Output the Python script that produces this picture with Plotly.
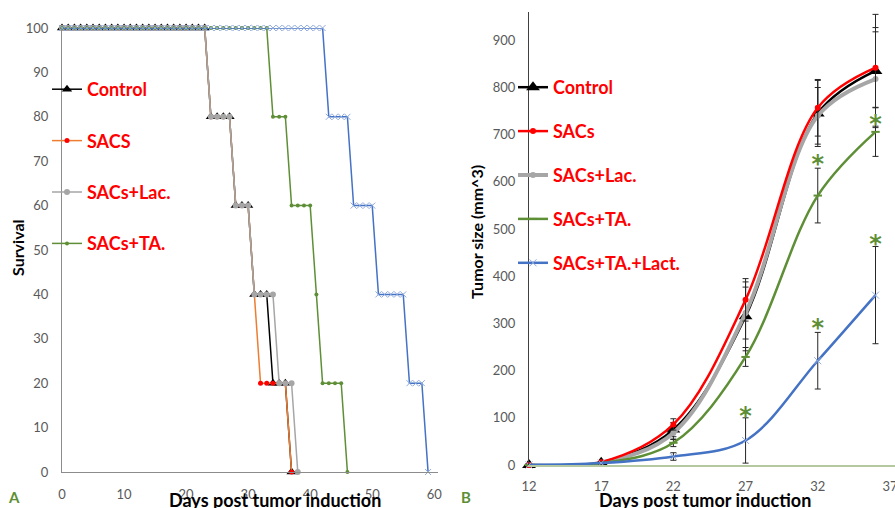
import plotly.graph_objects as go

# ---------------- Panel A: survival (step data, one value per day) ----------------
days_control = list(range(0, 38))
surv_control = [100, 100, 100, 100, 100, 100, 100, 100, 100, 100, 100, 100, 100, 100, 100, 100,
                100, 100, 100, 100, 100, 100, 100, 100, 80, 80, 80, 80, 60, 60, 60, 40, 40, 40,
                20, 20, 20, 0]
days_sacs = list(range(0, 38))
surv_sacs = [100, 100, 100, 100, 100, 100, 100, 100, 100, 100, 100, 100, 100, 100, 100, 100,
             100, 100, 100, 100, 100, 100, 100, 100, 80, 80, 80, 80, 60, 60, 60, 40,
             20, 20, 20, 20, 20, 0]
days_lac = list(range(0, 39))
surv_lac = [100, 100, 100, 100, 100, 100, 100, 100, 100, 100, 100, 100, 100, 100, 100, 100,
            100, 100, 100, 100, 100, 100, 100, 100, 80, 80, 80, 80, 60, 60, 60, 40, 40, 40, 40,
            20, 20, 20, 0]
days_ta = list(range(0, 47))
surv_ta = [100, 100, 100, 100, 100, 100, 100, 100, 100, 100, 100, 100, 100, 100, 100, 100,
           100, 100, 100, 100, 100, 100, 100, 100, 100, 100, 100, 100, 100, 100, 100, 100,
           100, 100, 80, 80, 80, 60, 60, 60, 60, 40, 20, 20, 20, 20, 0]
days_talact = list(range(0, 60))
surv_talact = [100, 100, 100, 100, 100, 100, 100, 100, 100, 100, 100, 100, 100, 100, 100, 100,
               100, 100, 100, 100, 100, 100, 100, 100, 100, 100, 100, 100, 100, 100, 100, 100,
               100, 100, 100, 100, 100, 100, 100, 100, 100, 100, 100, 80, 80, 80, 80,
               60, 60, 60, 60, 40, 40, 40, 40, 40, 20, 20, 20, 0]
surv_ticks = [0, 10, 20, 30, 40, 50, 60, 70, 80, 90, 100]
day_ticks_a = [0, 10, 20, 30, 40, 50, 60]

# ---------------- Panel B: tumour growth ----------------
growth_days = [12, 17, 22, 27, 32, 36]
size_control = [0, 5, 75, 315, 745, 835]
size_sacs = [0, 6, 86, 350, 757, 842]
size_lac = [0, 5, 68, 322, 740, 818]
size_ta = [0, 4, 47, 229, 571, 706]
size_talact = [0, 4, 18, 52, 221, 360]
err_control = [0, 2, 15, 73, 70, 120]
err_sacs = [0, 2, 12, 45, 60, 85]
err_lac = [0, 2, 14, 55, 60, 100]
err_ta = [0, 2, 8, 20, 58, 52]
err_talact = [0, 2, 8, 48, 60, 103]
star_x = [27, 32, 36, 32, 36]
star_y = [126, 660, 743, 312, 490]
size_ticks = [0, 100, 200, 300, 400, 500, 600, 700, 800, 900]
day_ticks_b = [12, 17, 22, 27, 32, 37]

FONT = "Lato"
RED = "#FF0000"
GREEN = "#5E8F36"
BLUE = "#4472C4"
GRAY = "#A6A6A6"
ORANGE = "#ED7D31"

fig = go.Figure()

# Panel A traces
fig.add_trace(go.Scatter(x=days_control, y=surv_control, name="Control", mode="lines+markers",
                         line=dict(color="black", width=1.5),
                         marker=dict(symbol="triangle-up", size=9, color="black"),
                         cliponaxis=False, legend="legend", legendgroup="a1", legendrank=1))
fig.add_trace(go.Scatter(x=days_sacs, y=surv_sacs, name="SACS", mode="lines+markers",
                         line=dict(color=ORANGE, width=1.5),
                         marker=dict(symbol="circle", size=5, color=RED),
                         cliponaxis=False, legend="legend", legendgroup="a2", legendrank=2))
fig.add_trace(go.Scatter(x=days_lac, y=surv_lac, name="SACs+Lac.", mode="lines+markers",
                         line=dict(color=GRAY, width=1.5),
                         marker=dict(symbol="circle", size=6, color=GRAY),
                         cliponaxis=False, legend="legend", legendgroup="a3", legendrank=3))
fig.add_trace(go.Scatter(x=days_ta, y=surv_ta, name="SACs+TA.", mode="lines+markers",
                         line=dict(color=GREEN, width=1.5),
                         marker=dict(symbol="circle", size=4, color=GREEN),
                         cliponaxis=False, legend="legend", legendgroup="a4", legendrank=4))
fig.add_trace(go.Scatter(x=days_talact, y=surv_talact, name="SACs+TA.+Lact.", mode="lines+markers",
                         line=dict(color=BLUE, width=1.5),
                         marker=dict(symbol="x-thin", size=6, color="#8FAADC",
                                     line=dict(width=1, color="#8FAADC")),
                         cliponaxis=False, showlegend=False))

# Panel B traces
def err(vals):
    return dict(type="data", array=vals, visible=True, color="#262626", thickness=1, width=3)

fig.add_trace(go.Scatter(x=growth_days, y=size_control, name="Control", mode="lines+markers",
                         line=dict(color="black", width=2.5, shape="spline"),
                         marker=dict(symbol="triangle-up", size=12, color="black"),
                         error_y=err(err_control), cliponaxis=False,
                         xaxis="x2", yaxis="y2", legend="legend2", legendgroup="b1", legendrank=1))
fig.add_trace(go.Scatter(x=growth_days, y=size_lac, name="SACs+Lac.", mode="lines+markers",
                         line=dict(color=GRAY, width=4, shape="spline"),
                         marker=dict(symbol="circle", size=6, color=GRAY),
                         error_y=err(err_lac), cliponaxis=False,
                         xaxis="x2", yaxis="y2", legend="legend2", legendgroup="b3", legendrank=3))
fig.add_trace(go.Scatter(x=growth_days, y=size_sacs, name="SACs", mode="lines+markers",
                         line=dict(color=RED, width=2.5, shape="spline"),
                         marker=dict(symbol="circle", size=6, color=RED),
                         error_y=err(err_sacs), cliponaxis=False,
                         xaxis="x2", yaxis="y2", legend="legend2", legendgroup="b2", legendrank=2))
fig.add_trace(go.Scatter(x=growth_days, y=size_ta, name="SACs+TA.", mode="lines+markers",
                         line=dict(color=GREEN, width=2.5, shape="spline"),
                         marker=dict(symbol="line-ew", size=6, color=GREEN,
                                     line=dict(width=2, color=GREEN)),
                         error_y=err(err_ta), cliponaxis=False,
                         xaxis="x2", yaxis="y2", legend="legend2", legendgroup="b4", legendrank=4))
fig.add_trace(go.Scatter(x=growth_days, y=size_talact, name="SACs+TA.+Lact.", mode="lines+markers",
                         line=dict(color=BLUE, width=2.5, shape="spline"),
                         marker=dict(symbol="x-thin", size=7, color="#8FAADC",
                                     line=dict(width=1, color="#8FAADC")),
                         error_y=err(err_talact), cliponaxis=False,
                         xaxis="x2", yaxis="y2", legend="legend2", legendgroup="b5", legendrank=5))
fig.add_trace(go.Scatter(x=star_x, y=star_y, mode="text", text=["*"] * len(star_x),
                         textfont=dict(family="DejaVu Sans", size=24, color=GREEN, weight="bold"),
                         textposition="bottom center", showlegend=False, cliponaxis=False,
                         xaxis="x2", yaxis="y2", hoverinfo="skip"))

W, H = 895, 508
tickfont = dict(family=FONT, size=13, color="#595959")
legfont = dict(family=FONT, size=18, color=RED, weight="bold")
titlefont = dict(family=FONT, size=18, color="black", weight="bold")

fig.update_layout(
    width=W, height=H, margin=dict(l=0, r=0, t=0, b=0, autoexpand=False),
    paper_bgcolor="white", plot_bgcolor="white",
    font=dict(family=FONT),
    xaxis=dict(domain=[62 / W, 438 / W], range=[0, 60.6], tickvals=day_ticks_a, automargin=False,
               showline=True, linecolor="#8C8C8C", linewidth=1, showgrid=False, zeroline=False,
               tickfont=tickfont, ticks="", ticklabelstandoff=10, ticklabeloverflow="allow"),
    yaxis=dict(domain=[1 - 472 / H, 1 - 28 / H], range=[0, 100], tickvals=surv_ticks, automargin=False,
               showline=True, linecolor="#8C8C8C", linewidth=1, showgrid=False, zeroline=False,
               tickfont=tickfont, ticks="", ticklabelstandoff=10),
    xaxis2=dict(domain=[529 / W, 1], range=[12, 37.35], tickvals=day_ticks_b, anchor="y2",
                automargin=False, ticklabeloverflow="allow",
                showline=True, linecolor="#B5C9A0", linewidth=2, showgrid=False, zeroline=False,
                tickfont=tickfont, ticks="", ticklabelstandoff=8),
    yaxis2=dict(domain=[1 - 465 / H, 1 - 12 / H], range=[0, 960], tickvals=size_ticks, anchor="x2",
                automargin=False,
                showline=True, linecolor="#404040", linewidth=1, showgrid=False, zeroline=False,
                tickfont=tickfont, ticks="", ticklabelstandoff=10),
    legend=dict(x=47 / W, y=1 - 71 / H, xanchor="left", yanchor="top", bgcolor="rgba(0,0,0,0)",
                font=legfont, tracegroupgap=25, itemwidth=30, traceorder="grouped"),
    legend2=dict(x=513 / W, y=1 - 69 / H, xanchor="left", yanchor="top", bgcolor="rgba(0,0,0,0)",
                 font=legfont, tracegroupgap=17.5, itemwidth=30, traceorder="grouped"),
    annotations=[
        dict(text="Survival", textangle=-90, x=17 / W, y=1 - 248 / H, xref="paper", yref="paper",
             xanchor="center", yanchor="middle", showarrow=False,
             font=dict(family=FONT, size=16, color="black", weight="bold")),
        dict(text="Tumor size (mm^3)", textangle=-90, x=476 / W, y=1 - 232 / H, xref="paper", yref="paper",
             xanchor="center", yanchor="middle", showarrow=False,
             font=dict(family=FONT, size=16, color="black", weight="bold")),
        dict(text="Days post tumor induction", x=275 / W, y=1 - 500 / H, xref="paper", yref="paper",
             xanchor="center", yanchor="middle", showarrow=False, font=titlefont),
        dict(text="Days post tumor induction", x=705 / W, y=1 - 500 / H, xref="paper", yref="paper",
             xanchor="center", yanchor="middle", showarrow=False, font=titlefont),
        dict(text="A", x=14 / W, y=1 - 497 / H, xref="paper", yref="paper",
             xanchor="center", yanchor="middle", showarrow=False,
             font=dict(family=FONT, size=15, color=GREEN, weight="bold")),
        dict(text="B", x=466 / W, y=1 - 497 / H, xref="paper", yref="paper",
             xanchor="center", yanchor="middle", showarrow=False,
             font=dict(family=FONT, size=15, color=GREEN, weight="bold")),
    ],
)

fig.write_html("out.html")
